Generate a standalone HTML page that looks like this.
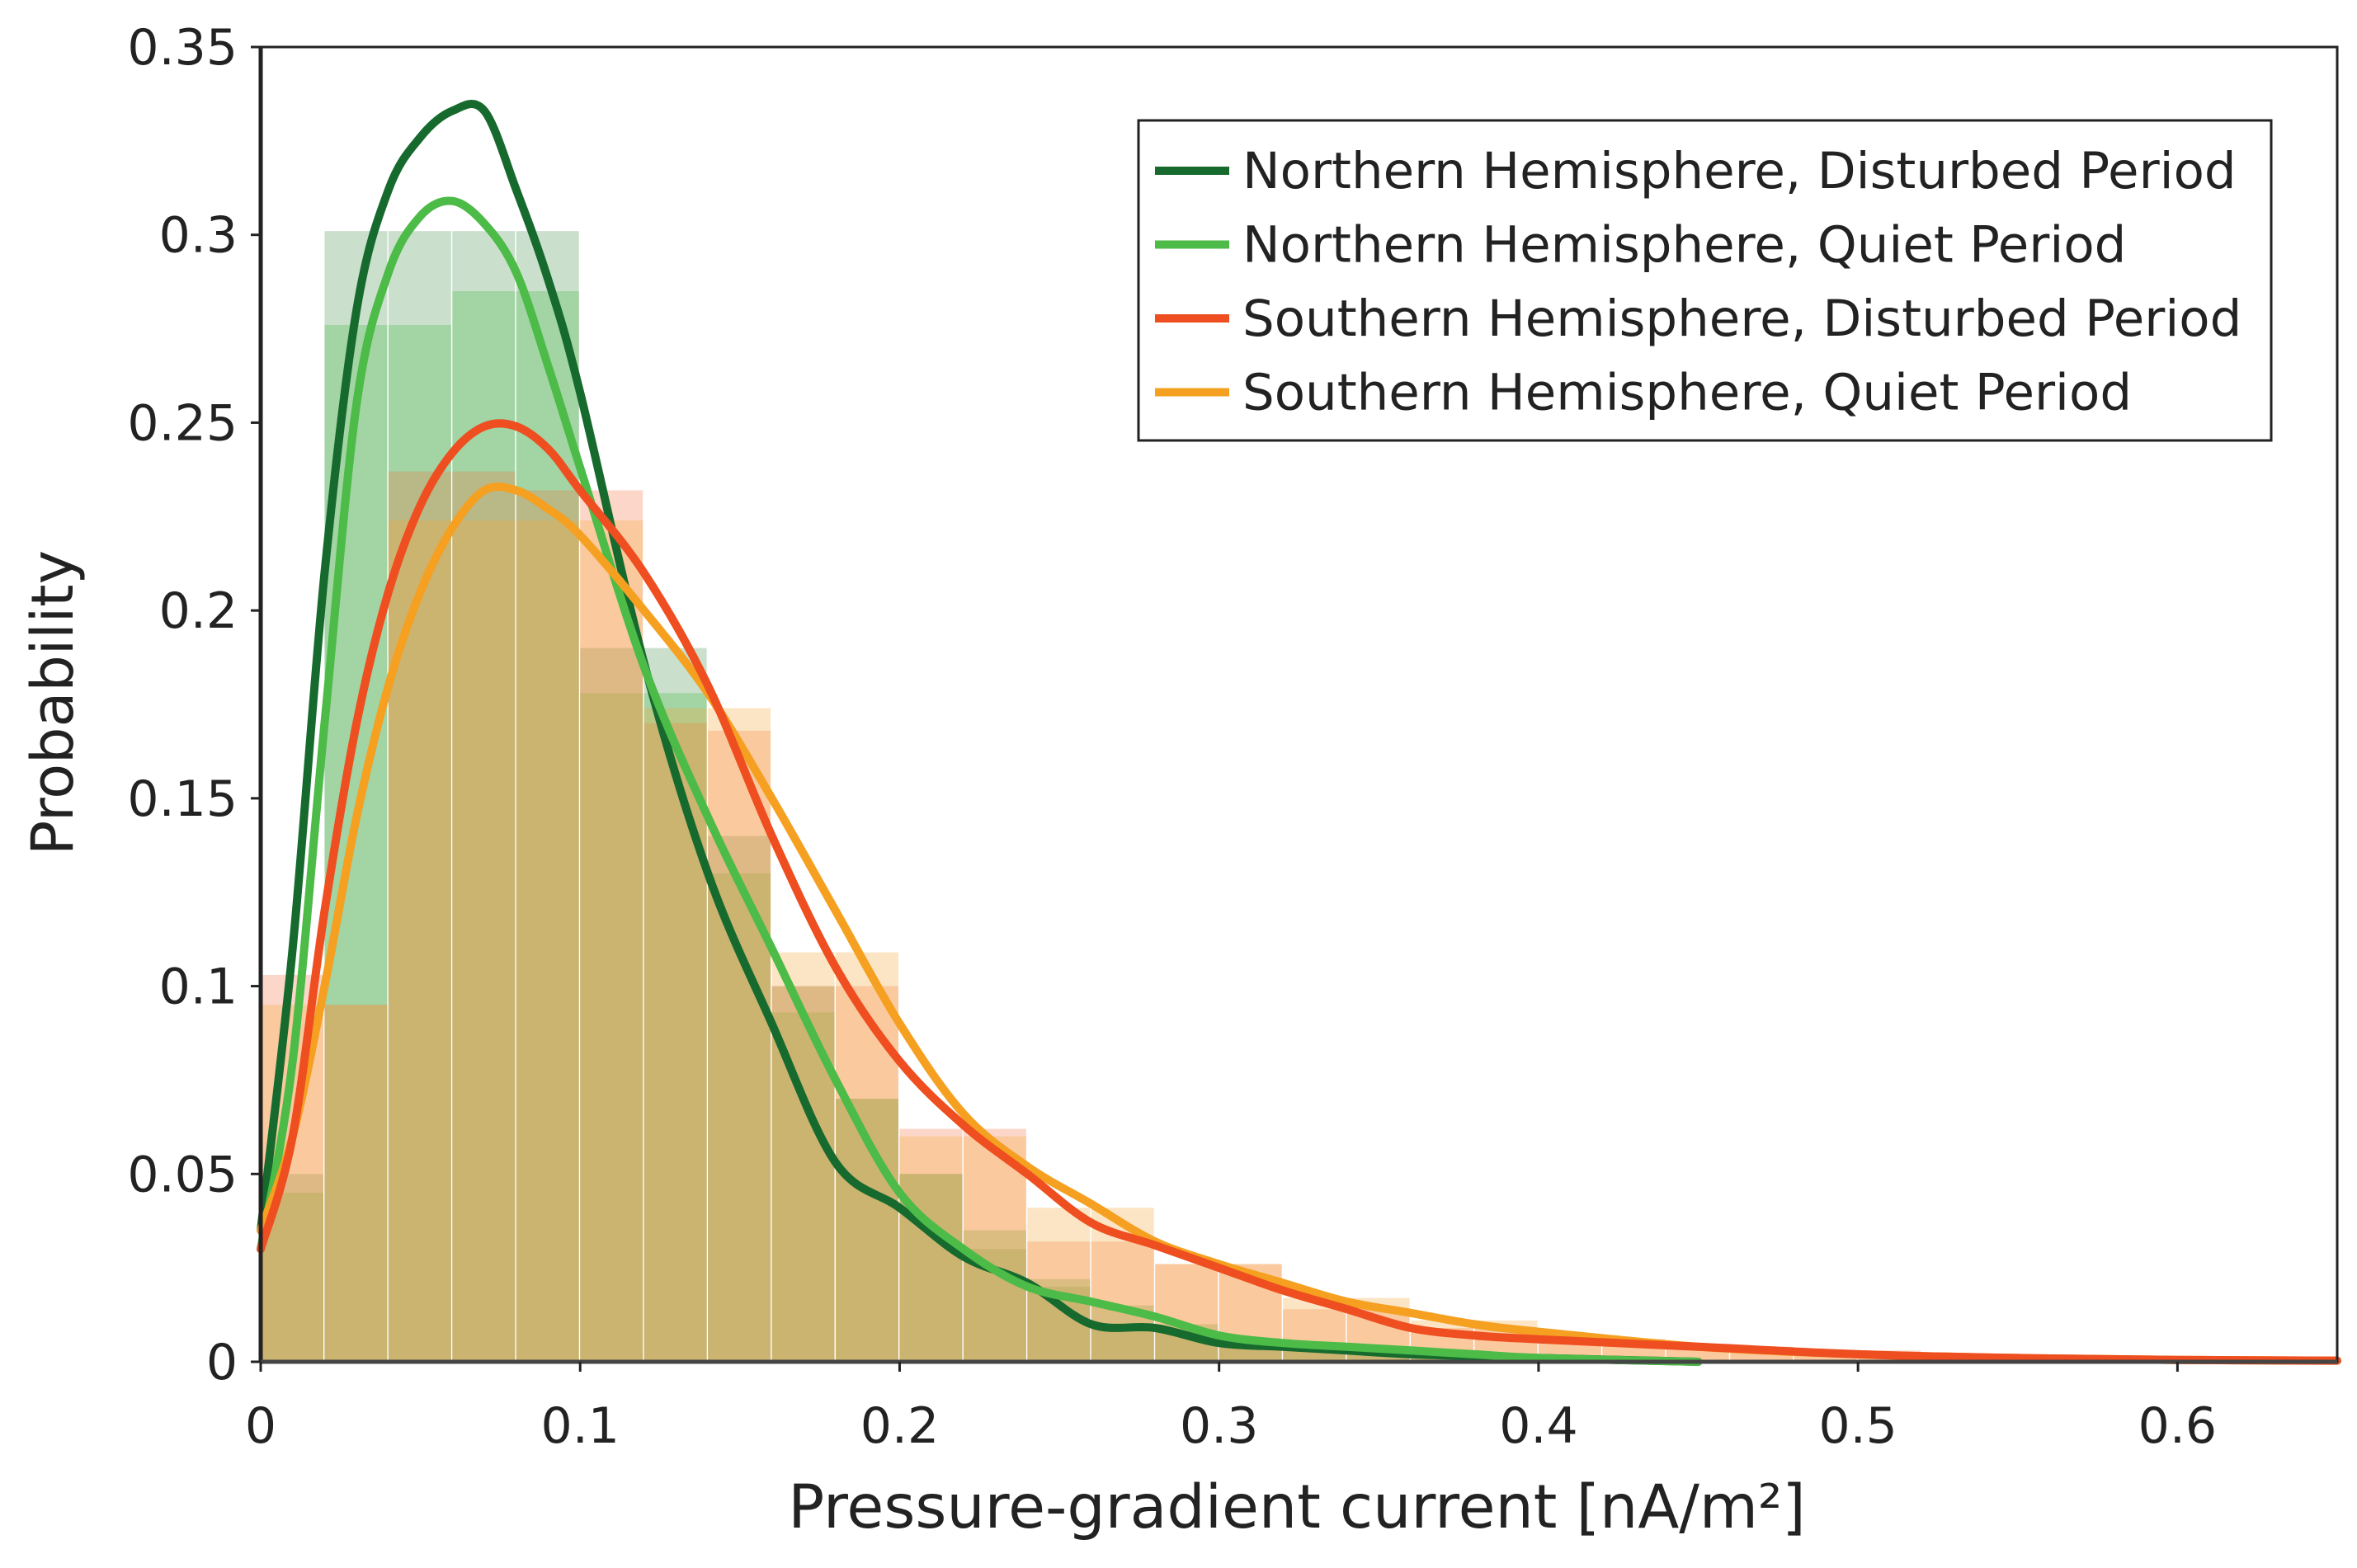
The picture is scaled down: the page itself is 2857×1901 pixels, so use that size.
<!DOCTYPE html>
<html><head><meta charset="utf-8"><style>
html,body{margin:0;padding:0;background:#fff;}
svg{display:block;font-family:"DejaVu Sans","Liberation Sans",sans-serif;}
</style></head><body>
<svg id="chart" width="2857" height="1901" viewBox="0 0 2857 1901" xmlns="http://www.w3.org/2000/svg">
<g id="bars"></g>
<g id="lines"></g>
<g id="axes"></g>
<text x="1572" y="1852" font-size="73" text-anchor="middle" fill="#222">Pressure-gradient current [nA/m²]</text>
<text transform="translate(88,852) rotate(-90)" font-size="70" text-anchor="middle" fill="#222">Probability</text>
<g id="legend"></g>
</svg>
<script>
const binWidth = 0.02;
const nhDistBins = [0.05,0.301,0.301,0.301,0.301,0.19,0.19,0.14,0.10,0.07,0.05,0.03,0.02,0.01,0.008,0.004,0.003,0.002,0.001,0.001,0.001,0.001];
const nhQuietBins = [0.045,0.276,0.276,0.285,0.285,0.178,0.178,0.13,0.093,0.07,0.05,0.035,0.022,0.015,0.01,0.006,0.004,0.003,0.002,0.001];
const shDistBins = [0.103,0.095,0.237,0.237,0.232,0.232,0.17,0.168,0.10,0.10,0.062,0.062,0.032,0.032,0.026,0.026,0.014,0.014,0.009,0.009,0.006,0.006,0.004,0.004,0.003,0.003,0.002,0.002,0.001,0.001,0.001,0.001,0.001];
const shQuietBins = [0.095,0.095,0.224,0.224,0.224,0.224,0.174,0.174,0.109,0.109,0.06,0.06,0.041,0.041,0.026,0.026,0.017,0.017,0.011,0.011,0.006,0.006,0.004,0.004,0.002,0.002,0.001,0.001];

const curveX = [0,0.01,0.02,0.03,0.04,0.05,0.06,0.07,0.08,0.09,0.1,0.12,0.14,0.16,0.18,0.2,0.22,0.24,0.26,0.28,0.3,0.32,0.34,0.36,0.38,0.4,0.45,0.5,0.55,0.6,0.65];
const nhDistCurve = [0.035,0.11,0.21,0.28,0.312,0.326,0.333,0.333,0.312,0.288,0.258,0.186,0.13,0.09,0.053,0.041,0.028,0.021,0.01,0.009,0.005,0.004,0.003,0.002,0.0015,0.001,0,null,null,null,null];
const nhQuietCurve = [0.03,0.08,0.17,0.255,0.29,0.305,0.309,0.303,0.29,0.265,0.238,0.185,0.145,0.11,0.075,0.045,0.03,0.02,0.016,0.012,0.007,0.005,0.004,0.003,0.002,0.001,0,null,null,null,null];
const shDistCurve = [0.03,0.06,0.12,0.17,0.205,0.228,0.242,0.249,0.249,0.243,0.232,0.21,0.18,0.14,0.105,0.08,0.063,0.05,0.037,0.031,0.025,0.019,0.014,0.009,0.007,0.006,0.004,0.002,0.001,0.0005,0.0003];
const shQuietCurve = [0.035,0.06,0.1,0.145,0.18,0.205,0.222,0.232,0.232,0.227,0.22,0.2,0.178,0.15,0.12,0.09,0.066,0.052,0.042,0.032,0.026,0.021,0.016,0.013,0.01,0.008,0.004,0.002,0.001,0.0005,0.0003];

const xTicks = [0,0.1,0.2,0.3,0.4,0.5,0.6];
const xTickLabels = ["0","0.1","0.2","0.3","0.4","0.5","0.6"];
const yTicks = [0,0.05,0.1,0.15,0.2,0.25,0.3,0.35];
const yTickLabels = ["0","0.05","0.1","0.15","0.2","0.25","0.3","0.35"];
const seriesNames = ["Northern Hemisphere, Disturbed Period","Northern Hemisphere, Quiet Period","Southern Hemisphere, Disturbed Period","Southern Hemisphere, Quiet Period"];

const L=316,R=2833,T=57,B=1651;
const xs=v=>L+v/0.65*(R-L);
const ys=v=>B-v/0.35*(B-T);
const NS="http://www.w3.org/2000/svg";
function mk(tag,parent){const e=document.createElementNS(NS,tag);parent.appendChild(e);return e;}

const barG=document.getElementById('bars');
const barSets=[[nhDistBins,'rgba(60,140,70,0.27)','nh-disturbed'],[nhQuietBins,'rgba(90,190,90,0.35)','nh-quiet'],[shDistBins,'rgba(245,110,60,0.28)','sh-disturbed'],[shQuietBins,'rgba(245,170,60,0.3)','sh-quiet']];
barSets.forEach(([arr,col,nm])=>{
  arr.forEach((v,i)=>{
    const x0=xs(i*binWidth),x1=xs(Math.min((i+1)*binWidth,0.65));
    const r=mk('rect',barG);
    
    
    r.setAttribute('x',x0);r.setAttribute('y',ys(v));
    r.setAttribute('width',Math.max(0,x1-x0-1.5));r.setAttribute('height',B-ys(v));
    r.setAttribute('fill',col);
  });
});

function smoothPath(pts){
  let d='M'+pts[0][0].toFixed(1)+','+pts[0][1].toFixed(1);
  for(let i=0;i<pts.length-1;i++){
    const p0=pts[i-1]||pts[i],p1=pts[i],p2=pts[i+1],p3=pts[i+2]||p2;
    const c1=[p1[0]+(p2[0]-p0[0])/6,p1[1]+(p2[1]-p0[1])/6];
    const c2=[p2[0]-(p3[0]-p1[0])/6,p2[1]-(p3[1]-p1[1])/6];
    d+='C'+c1[0].toFixed(1)+','+c1[1].toFixed(1)+' '+c2[0].toFixed(1)+','+c2[1].toFixed(1)+' '+p2[0].toFixed(1)+','+p2[1].toFixed(1);
  }
  return d;
}

const lineG=document.getElementById('lines');
const curves=[[nhDistCurve,'#176a2e','nh-disturbed'],[nhQuietCurve,'#4cbb47','nh-quiet'],[shQuietCurve,'#f5a020','sh-quiet'],[shDistCurve,'#ee4e20','sh-disturbed']];
curves.forEach(([arr,col,nm])=>{
  const pts=[];
  arr.forEach((v,i)=>{if(v===null)return;pts.push([xs(curveX[i]),ys(v)]);});
  const p=mk('path',lineG);
  
  
  p.setAttribute('d',smoothPath(pts));p.setAttribute('fill','none');p.setAttribute('stroke',col);
  p.setAttribute('stroke-width','10');p.setAttribute('stroke-linejoin','round');p.setAttribute('stroke-linecap','round');
});

const ax=document.getElementById('axes');
const frame=mk('rect',ax);


frame.setAttribute('x',L);frame.setAttribute('y',T);frame.setAttribute('width',R-L);frame.setAttribute('height',B-T);
frame.setAttribute('fill','none');frame.setAttribute('stroke','#222');frame.setAttribute('stroke-width','3');
const yAxis=mk('line',ax);


yAxis.setAttribute('x1',L);yAxis.setAttribute('x2',L);yAxis.setAttribute('y1',T);yAxis.setAttribute('y2',B);
yAxis.setAttribute('stroke','#222');yAxis.setAttribute('stroke-width','5');
const xAxis=mk('line',ax);


xAxis.setAttribute('x1',L);xAxis.setAttribute('x2',R);xAxis.setAttribute('y1',B);xAxis.setAttribute('y2',B);
xAxis.setAttribute('stroke','#444');xAxis.setAttribute('stroke-width','5');
xTicks.forEach((v,i)=>{
  const t=mk('line',ax);
  
  
  t.setAttribute('x1',xs(v));t.setAttribute('x2',xs(v));t.setAttribute('y1',B);t.setAttribute('y2',B+12);
  t.setAttribute('stroke','#222');t.setAttribute('stroke-width','3');
  const tx=mk('text',ax);
  
  
  tx.setAttribute('x',xs(v));tx.setAttribute('y',B+98);tx.setAttribute('font-size','60');
  tx.setAttribute('text-anchor','middle');tx.setAttribute('fill','#222');tx.textContent=xTickLabels[i];
});
yTicks.forEach((v,i)=>{
  const t=mk('line',ax);
  
  
  t.setAttribute('x1',L-12);t.setAttribute('x2',L);t.setAttribute('y1',ys(v));t.setAttribute('y2',ys(v));
  t.setAttribute('stroke','#222');t.setAttribute('stroke-width','3');
  const tx=mk('text',ax);
  
  
  tx.setAttribute('x',L-28);tx.setAttribute('y',ys(v)+21);tx.setAttribute('font-size','60');
  tx.setAttribute('text-anchor','end');tx.setAttribute('fill','#222');tx.textContent=yTickLabels[i];
});

const lg=document.getElementById('legend');
const box=mk('rect',lg);


box.setAttribute('x',1380);box.setAttribute('y',146);box.setAttribute('width',1373);box.setAttribute('height',388);
box.setAttribute('fill','#fff');box.setAttribute('stroke','#222');box.setAttribute('stroke-width','3');
const legCols=['#176a2e','#4cbb47','#ee4e20','#f5a020'];
seriesNames.forEach((nm,i)=>{
  const y=207+i*89.5;
  const l=mk('line',lg);
  
  
  l.setAttribute('x1',1400);l.setAttribute('x2',1490);l.setAttribute('y1',y);l.setAttribute('y2',y);
  l.setAttribute('stroke',legCols[i]);l.setAttribute('stroke-width','10');
  const t=mk('text',lg);
  
  
  t.setAttribute('x',1506);t.setAttribute('y',y+21);t.setAttribute('font-size','61');t.setAttribute('fill','#222');
  t.textContent=nm;
});
</script>
</body></html>
